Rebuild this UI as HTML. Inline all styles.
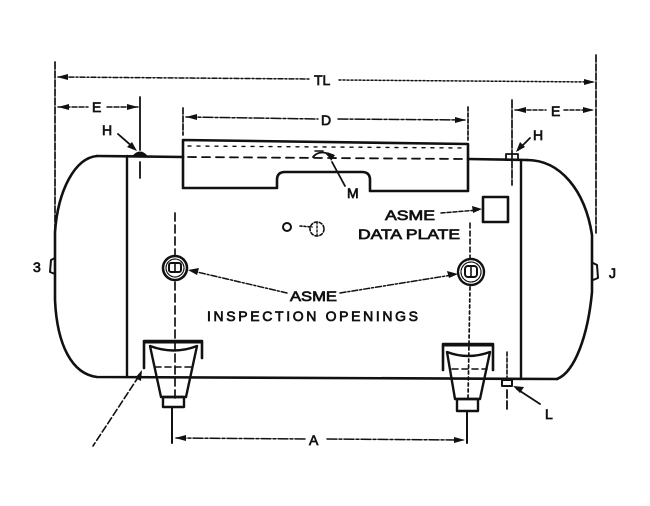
<!DOCTYPE html>
<html><head><meta charset="utf-8"><style>
html,body{margin:0;padding:0;background:#fff;}
svg{display:block;}
text{font-family:"Liberation Sans",Arial,sans-serif;font-size:14px;fill:#111;stroke:#111;stroke-width:0.7;}
</style></head><body>
<svg width="650" height="506" viewBox="0 0 650 506" xmlns="http://www.w3.org/2000/svg">
<rect width="650" height="506" fill="#fff"/>
<g fill="none" stroke="#111" stroke-linecap="round" stroke-linejoin="round">
<!-- TL dimension -->
<line x1="55" y1="62" x2="55" y2="234" stroke-width="1.7" stroke-dasharray="7 2"/>
<line x1="596" y1="55" x2="596" y2="234" stroke-width="1.7" stroke-dasharray="7 2"/>
<line x1="58" y1="77" x2="309" y2="79" stroke-width="1.5" stroke-dasharray="5 2 2 2"/>
<line x1="339" y1="80" x2="593" y2="82" stroke-width="1.5" stroke-dasharray="2 2"/>
<!-- E left -->
<line x1="58" y1="107" x2="88" y2="107" stroke-width="1.5" stroke-dasharray="5 2"/>
<line x1="107" y1="107" x2="138" y2="107" stroke-width="1.5" stroke-dasharray="5 2"/>
<line x1="140" y1="97" x2="140" y2="150" stroke-width="1.8"/>
<line x1="140" y1="162" x2="140" y2="178" stroke-width="1.8"/>
<!-- D -->
<line x1="183" y1="108" x2="183" y2="135" stroke-width="1.7" stroke-dasharray="6 2"/>
<line x1="468" y1="107" x2="468" y2="140" stroke-width="1.7" stroke-dasharray="4 2"/>
<line x1="186" y1="117" x2="318" y2="119" stroke-width="1.5" stroke-dasharray="10 2 3 2"/>
<line x1="338" y1="119" x2="465" y2="120" stroke-width="1.5" stroke-dasharray="10 2 3 2"/>
<!-- E right -->
<line x1="512" y1="100" x2="512" y2="185" stroke-width="1.7" stroke-dasharray="8 2"/>
<line x1="515" y1="110" x2="546" y2="110" stroke-width="1.5" stroke-dasharray="4 2"/>
<line x1="564" y1="110" x2="593" y2="110" stroke-width="1.5" stroke-dasharray="4 2"/>
<!-- tank shell -->
<path d="M97,156 L183,157" stroke-width="2.6"/>
<path d="M468,159 L527,160" stroke-width="2.6"/>
<path d="M97,156 C75,158 58,190 55,232 L55,300 C57,345 72,374 97,377 L557,379" stroke-width="2.6"/>
<path d="M527,160 C560,160 585,190 592,235 L592,292 C588,335 575,372 557,379" stroke-width="2.6"/>
<line x1="127" y1="156" x2="127" y2="377" stroke-width="2.4"/>
<line x1="521" y1="160" x2="521" y2="379" stroke-width="2.4"/>
<!-- top plate -->
<path d="M183,188 L183,140 L468,144 L468,191 L370,191 L370,180 Q370,172 362,172 L285,172 Q277,172 277,180 L277,188 Z" stroke-width="2.6"/>
<line x1="188" y1="146" x2="465" y2="148" stroke-width="1.4" stroke-dasharray="3 6"/>
<line x1="188" y1="157" x2="465" y2="159" stroke-width="1.8" stroke-dasharray="8 6"/>
<path d="M313,157 Q318,151 326,153 L331,158" stroke-width="1.8"/>
<line x1="315" y1="151" x2="323" y2="151" stroke-width="1.5"/>
<line x1="332" y1="162" x2="345" y2="186" stroke-width="1.8"/>
<!-- H welds -->
<path d="M133,156 Q140,148 147,156 Z" fill="#111" stroke-width="1"/>
<line x1="118" y1="134" x2="134" y2="148" stroke-width="1.8"/>
<rect x="506" y="154" width="12" height="6" stroke-width="1.8"/>
<line x1="530" y1="138" x2="518" y2="150" stroke-width="1.8"/>
<!-- small symbols -->
<circle cx="287" cy="227" r="4" stroke-width="2"/>
<circle cx="317" cy="229" r="7" stroke-width="1.6" stroke-dasharray="3 2"/>
<line x1="300" y1="226" x2="312" y2="227" stroke-width="1.6" stroke-dasharray="2 2"/>
<line x1="317" y1="222" x2="317" y2="236" stroke-width="1.4" stroke-dasharray="2 2"/>
<!-- data plate -->
<rect x="483" y="197" width="25" height="25" stroke-width="2.6"/>
<line x1="441" y1="213" x2="478" y2="210" stroke-width="1.5" stroke-dasharray="4 2"/>
<line x1="470" y1="223" x2="470" y2="258" stroke-width="1.6" stroke-dasharray="5 3"/>
<!-- inspection openings -->
<circle cx="175" cy="268" r="12" stroke-width="2.6"/>
<circle cx="175" cy="268" r="9" stroke-width="1.2" stroke-dasharray="3 1"/>
<rect x="169" y="263" width="12" height="9" rx="2" stroke-width="2"/>
<line x1="175" y1="263" x2="175" y2="272" stroke-width="1.6"/>
<circle cx="471" cy="272" r="13" stroke-width="2.4" stroke-dasharray="5 1"/>
<circle cx="471" cy="272" r="10" stroke-width="1.2" stroke-dasharray="3 1"/>
<rect x="465" y="266" width="12" height="11" rx="3" stroke-width="2"/>
<line x1="471" y1="266" x2="471" y2="277" stroke-width="1.6"/>
<line x1="175" y1="213" x2="175" y2="255" stroke-width="1.7" stroke-dasharray="8 4"/>
<line x1="287" y1="293" x2="197" y2="272" stroke-width="1.5" stroke-dasharray="6 2 2 2"/>
<line x1="340" y1="293" x2="452" y2="275" stroke-width="1.5" stroke-dasharray="6 2 2 2"/>
<!-- center lines through saddles -->
<line x1="175" y1="282" x2="175" y2="400" stroke-width="1.7" stroke-dasharray="8 4"/>
<line x1="470" y1="287" x2="468" y2="400" stroke-width="1.7" stroke-dasharray="3 3"/>
<!-- left saddle -->
<path d="M144,368 L144,341 L202,341 L202,358" stroke-width="2.6"/>
<line x1="145" y1="342" x2="201" y2="342" stroke-width="3"/>
<path d="M150,346 Q174,355 197,346 L186,397 L161,397 Z" stroke-width="2.4"/>
<rect x="163" y="397" width="21" height="10" stroke-width="2.4"/>
<line x1="155" y1="367" x2="193" y2="367" stroke-width="1.6" stroke-dasharray="6 4"/>
<!-- right saddle -->
<path d="M443,370 L443,344 L493,344 L493,370" stroke-width="2.6"/>
<line x1="444" y1="345" x2="492" y2="345" stroke-width="3"/>
<path d="M447,352 Q468,360 490,352 L480,399 L455,399 Z" stroke-width="2.4"/>
<rect x="457" y="399" width="21" height="12" stroke-width="2.4"/>
<line x1="452" y1="369" x2="487" y2="369" stroke-width="1.6" stroke-dasharray="6 4"/>
<!-- A dimension -->
<line x1="172" y1="407" x2="172" y2="443" stroke-width="2"/>
<line x1="467" y1="411" x2="467" y2="443" stroke-width="2"/>
<line x1="176" y1="438" x2="305" y2="439" stroke-width="1.5" stroke-dasharray="10 2 3 2"/>
<line x1="327" y1="439" x2="463" y2="440" stroke-width="1.5" stroke-dasharray="10 2 3 2"/>
<!-- left leader -->
<line x1="139" y1="376" x2="93" y2="446" stroke-width="1.6" stroke-dasharray="7 3"/>
<!-- L -->
<rect x="502" y="380" width="10" height="6" stroke-width="2"/>
<line x1="507" y1="352" x2="507" y2="377" stroke-width="1.6" stroke-dasharray="4 2"/>
<line x1="507" y1="390" x2="507" y2="410" stroke-width="1.8" stroke-dasharray="8 3"/>
<line x1="540" y1="404" x2="517" y2="389" stroke-width="1.8"/>
<!-- nubs -->
<path d="M55,258 L51,260 L50,272 L55,274" stroke-width="2"/>
<path d="M593,263 L597,265 L598,278 L593,280" stroke-width="2"/>
</g>
<!-- arrowheads -->
<g fill="#111">
<polygon points="57,77 68,74 68,80"/>
<polygon points="595,82 584,79 584,85"/>
<polygon points="58,107 69,104 69,110"/>
<polygon points="138,107 127,104 127,110"/>
<polygon points="186,117 197,114 197,120"/>
<polygon points="466,120 455,117 455,123"/>
<polygon points="515,110 526,107 526,113"/>
<polygon points="594,110 583,107 583,113"/>
<polygon points="137,151 127,147 132,142"/>
<polygon points="516,152 520,142 525,147"/>
<polygon points="331,161 327,152 335,155"/>
<polygon points="482,209 472,206 473,213"/>
<polygon points="188,270 199,268 197,275"/>
<polygon points="458,274 447,271 449,278"/>
<polygon points="142,370 135,378 141,381"/>
<polygon points="175,438 186,435 186,441"/>
<polygon points="465,440 454,437 454,443"/>
<polygon points="513,386 520,393 524,387"/>
</g>
<!-- labels -->
<text x="314" y="85">TL</text>
<text x="92" y="112">E</text>
<text x="551" y="116">E</text>
<text x="321" y="125">D</text>
<text x="102" y="135">H</text>
<text x="533" y="140">H</text>
<text x="347" y="198" font-size="13">M</text>
<text x="385" y="220" textLength="50" lengthAdjust="spacingAndGlyphs">ASME</text>
<text x="358" y="239" textLength="102" lengthAdjust="spacingAndGlyphs">DATA PLATE</text>
<text x="290" y="301" textLength="47" lengthAdjust="spacingAndGlyphs">ASME</text>
<text x="207" y="321" textLength="211" lengthAdjust="spacing">INSPECTION OPENINGS</text>
<text x="33" y="272" font-size="12">3</text>
<text x="609" y="278">J</text>
<text x="309" y="445">A</text>
<text x="545" y="419">L</text>
</svg>
</body></html>
